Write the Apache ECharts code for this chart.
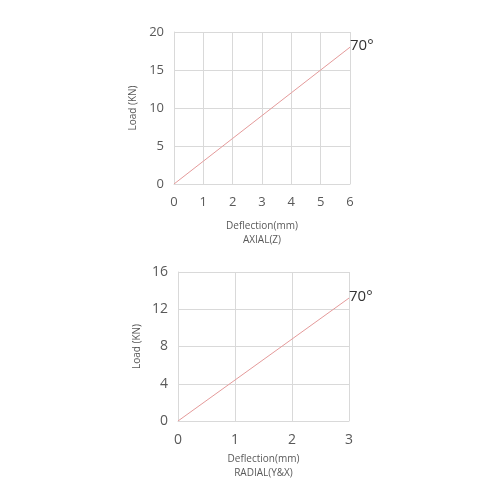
<!DOCTYPE html>
<html><head><meta charset="utf-8">
<script src="https://cdn.jsdelivr.net/npm/echarts@6/dist/echarts.min.js"></script>
<style>html,body{margin:0;padding:0;background:#fff}#c{width:500px;height:500px}</style>
</head><body><div id="c"></div>
<script>
const axialX = [0, 1, 2, 3, 4, 5, 6];
const axialLoad = [0, 3, 6, 9, 12, 15, 18];
const radialX = [0, 1, 2, 3];
const radialLoad = [0, 4.4, 8.8, 13.2];
const endLabelText = '70°';
const yName = 'Load (KN)';
const xNameTop = 'Deflection(mm)\nAXIAL(Z)';
const xNameBottom = 'Deflection(mm)\nRADIAL(Y&X)';

const chart = echarts.init(document.getElementById('c'));
const font = 'Open Sans, Noto Sans, sans-serif';
const gridColor = '#d9d9d9';
function tickLabel(size, margin) {
  return {color: '#595959', fontSize: size, fontFamily: font, margin: margin};
}
function xAxis(idx, max, name, gap, size) {
  return {
    type: 'value', gridIndex: idx, min: 0, max: max, interval: 1,
    axisLine: {show: true, lineStyle: {color: gridColor}},
    axisTick: {show: false},
    splitLine: {show: true, lineStyle: {color: gridColor}},
    axisLabel: tickLabel(size, 12),
    name: name, nameLocation: 'middle', nameGap: gap,
    nameTextStyle: {color: '#595959', fontSize: 10, fontFamily: font, lineHeight: 14, verticalAlign: 'top'}
  };
}
function yAxis(idx, max, interval, size) {
  return {
    type: 'value', gridIndex: idx, min: 0, max: max, interval: interval,
    axisLine: {show: true, lineStyle: {color: gridColor}},
    axisTick: {show: false},
    splitLine: {show: true, lineStyle: {color: gridColor}},
    axisLabel: tickLabel(size, 10),
    name: yName, nameLocation: 'middle', nameGap: 36, nameRotate: 90,
    nameTextStyle: {color: '#595959', fontSize: 10, fontFamily: font}
  };
}
function lineSeries(idx, xs, ys) {
  return {
    type: 'line', xAxisIndex: idx, yAxisIndex: idx,
    data: xs.map((x, i) => [x, ys[i]]),
    showSymbol: false, symbol: 'none', silent: true,
    lineStyle: {color: '#e49a9a', width: 1},
    endLabel: {show: true, formatter: endLabelText, distance: 0, offset: [0, -1],
      color: '#333', fontSize: 15, fontFamily: font}
  };
}
chart.setOption({
  animation: false,
  grid: [
    {left: 174, right: 150, top: 32, height: 152},
    {left: 178, right: 151, top: 272, height: 149}
  ],
  xAxis: [xAxis(0, 6, xNameTop, 35, 13), xAxis(1, 3, xNameBottom, 31, 14)],
  yAxis: [yAxis(0, 20, 5, 13), yAxis(1, 16, 4, 14)],
  series: [lineSeries(0, axialX, axialLoad), lineSeries(1, radialX, radialLoad)]
});
</script></body></html>
